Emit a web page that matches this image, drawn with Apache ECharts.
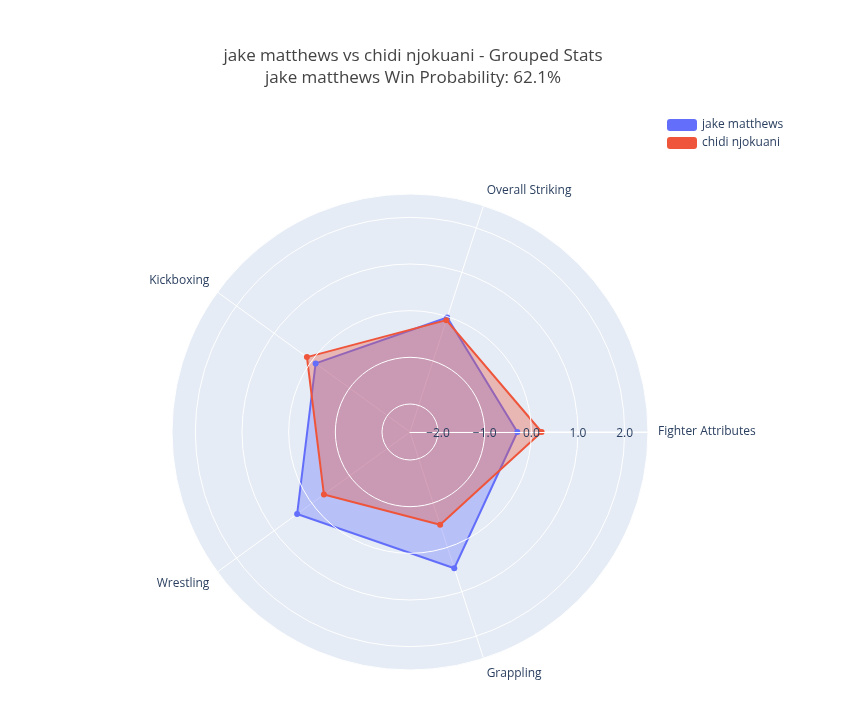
<!DOCTYPE html>
<html>
<head>
<meta charset="utf-8">
<script src="https://cdn.jsdelivr.net/npm/echarts@6/dist/echarts.min.js"></script>
<style>html,body{margin:0;background:#fff}#chart{width:848px;height:719px}</style>
</head>
<body>
<div id="chart"></div>
<script>
// 数据
var categories = ['Fighter Attributes', 'Overall Striking', 'Kickboxing', 'Wrestling', 'Grappling'];
var angles = [0, 72, 144, 216, 288];
var jakeValues = [-0.3, -0.02, -0.1, 0.39, 0.47];
var chidiValues = [0.22, -0.08, 0.13, -0.32, -0.51];
var tickLabels = ['-2.0', '-1.0', '0.0', '1.0', '2.0'];

var fontColor = '#2a3f5f';
var rMin = -2.6, rMax = 2.5;

var option = {
    backgroundColor: '#fff',
    textStyle: {fontFamily: '"Open Sans", sans-serif'},
    title: {
        text: 'jake matthews vs chidi njokuani - Grouped Stats\njake matthews Win Probability: 62.1%',
        left: 408, top: 40, textAlign: 'center',
        textStyle: {color: '#444', fontSize: 17, fontWeight: 'normal', lineHeight: 22, fontFamily: '"Open Sans", sans-serif'}
    },
    legend: {
        orient: 'vertical', left: 662, top: 114, itemGap: 6, itemWidth: 30, itemHeight: 12,
        textStyle: {color: fontColor, fontSize: 12},
        data: ['jake matthews', 'chidi njokuani']
    },
    // 背景 + 数据多边形
    radar: {
        center: [410, 432], radius: 238, startAngle: 0, shape: 'circle', splitNumber: 1, z: 1,
        indicator: categories.map(function (c) { return {name: c, min: rMin, max: rMax}; }),
        axisName: {show: false},
        axisLine: {show: false}, axisTick: {show: false},
        splitLine: {show: false},
        splitArea: {show: true, areaStyle: {color: ['#e5ecf6']}}
    },
    // 网格线和刻度
    polar: {center: [410, 432], radius: 238, z: 2},
    angleAxis: {
        type: 'value', min: 0, max: 360, interval: 72, startAngle: 0, clockwise: false, z: 2,
        axisLine: {show: false}, axisTick: {show: false},
        axisLabel: {
            color: fontColor, fontSize: 12, margin: 10,
            formatter: function (v) { var i = angles.indexOf(v); return i >= 0 ? categories[i] : ''; }
        },
        splitLine: {show: true, lineStyle: {color: '#fff', width: 1}}
    },
    radiusAxis: {
        type: 'value', min: rMin, max: rMax, angle: 0, z: 6,
        axisLine: {show: true, lineStyle: {color: '#fff'}},
        axisTick: {show: false},
        axisLabel: {
            show: true, color: fontColor, fontSize: 12, margin: 4,
            verticalAlign: 'top', showMinLabel: true, showMaxLabel: true,
            formatter: function (v) { var s = (+v).toFixed(1); return tickLabels.indexOf(s) >= 0 ? s.replace('-', '\u2212') : ''; }
        },
        splitLine: {show: true, lineStyle: {color: '#fff'}}
    },
    series: [{
        type: 'radar', z: 4, symbol: 'circle', symbolSize: 6,
        data: [
            {
                name: 'jake matthews', value: jakeValues,
                itemStyle: {color: '#636efa'}, lineStyle: {color: '#636efa', width: 2},
                areaStyle: {color: 'rgba(99,110,250,0.5)'}
            },
            {
                name: 'chidi njokuani', value: chidiValues,
                itemStyle: {color: '#ef553b'}, lineStyle: {color: '#ef553b', width: 2},
                areaStyle: {color: 'rgba(239,85,59,0.5)'}
            }
        ]
    }]
};

var chart = echarts.init(document.getElementById('chart'));
chart.setOption(option);
</script>
</body>
</html>
